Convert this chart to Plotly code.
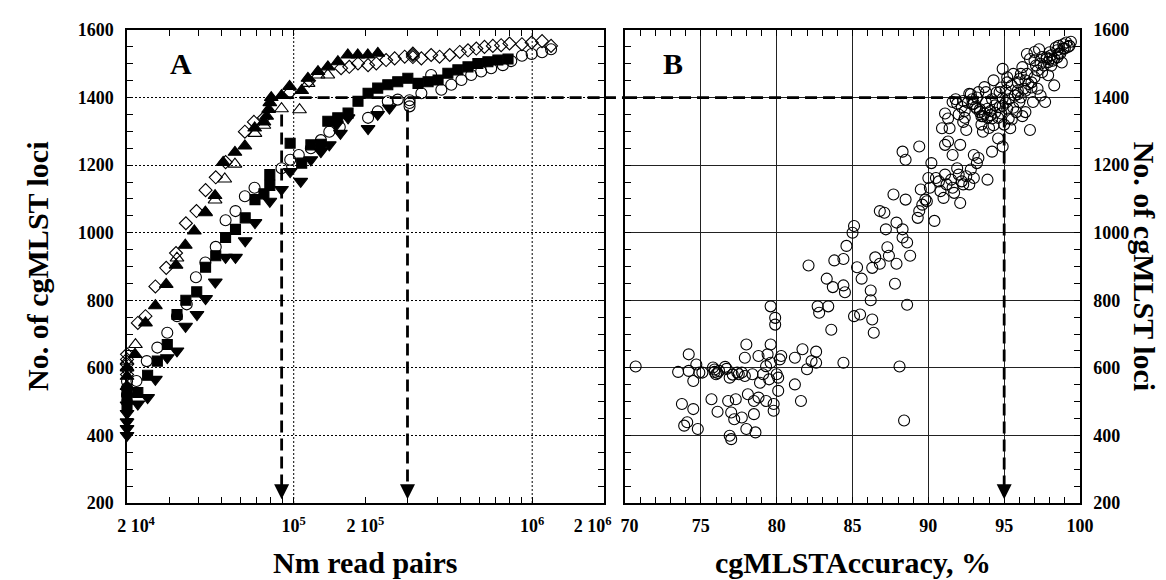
import numpy as np
import plotly.graph_objects as go

FONT = "Liberation Serif"

# ---------------- Panel A: loci vs read pairs ----------------
diam_x = [2e4, 2e4, 2e4, 2e4, 2e4, 22200, 23900, 26300, 29200, 32100, 35300, 39100, 42700, 47100,
          51800, 62400, 68100, 75000, 96600, 116000, 158000, 171000, 186000, 205000, 222000, 244000,
          265000, 292000, 316000, 316000, 316000, 343000, 377000, 409000, 451000, 497000, 538000,
          583000, 631000, 684000, 741000, 803000, 906000, 995000, 1.1e6, 1.2e6]
diam_y = [640, 625, 610, 595, 580, 733, 753, 841, 896, 940, 1028, 1064, 1126, 1164,
          1209, 1299, 1328, 1340, 1416, 1450, 1487, 1491, 1501, 1496, 1501, 1511,
          1516, 1521, 1520, 1526, 1530, 1516, 1526, 1521, 1526, 1535, 1540,
          1545, 1550, 1553, 1555, 1560, 1558, 1563, 1567, 1553]

tri_x = [2e4, 2e4, 2e4, 21600, 23900, 26300, 29200, 32100, 35100, 38300, 42600, 46800, 50600,
         56700, 62400, 68600, 75000, 77000, 78500, 79400, 80500, 88900, 96100, 108000, 114700,
         126400, 139100, 153200, 168600, 185600, 204500, 225300]
tri_y = [600, 575, 545, 640, 733, 784, 847, 904, 963, 1005, 1061, 1110, 1208,
         1238, 1257, 1310, 1328, 1345, 1365, 1385, 1400, 1406, 1433, 1421, 1457,
         1477, 1491, 1506, 1526, 1526, 1526, 1531]

otri_x = [2e4, 21700, 32400, 42700, 46800, 51400, 56700, 68800, 75000, 88900, 105800, 114900,
          126500, 139000]
otri_y = [620, 669, 925, 1059, 1097, 1159, 1203, 1294, 1318, 1367, 1364, 1442, 1467, 1467]

circ_x = [2e4, 2e4, 2e4, 21900, 24200, 26800, 29500, 32400, 35600, 38900, 42600, 47100, 51800,
          57000, 62400, 68500, 88900, 96700, 105000, 118000, 130000, 141000, 156000, 205000,
          225000, 248000, 273000, 306000, 306000, 306000, 343000, 377000, 416000, 458000, 505000,
          555000, 611000, 673000, 753000, 817000, 906000, 995000, 1.1e6, 1.2e6]
circ_y = [560, 540, 520, 561, 620, 660, 704, 753, 788, 868, 912, 958, 1037,
          1064, 1108, 1133, 1191, 1216, 1230, 1250, 1274, 1299, 1313, 1340,
          1359, 1389, 1394, 1384, 1374, 1392, 1413, 1467, 1423, 1438, 1452,
          1467, 1477, 1487, 1496, 1508, 1524, 1529, 1534, 1543]

sq_x = [2e4, 2e4, 2e4, 22200, 24400, 26800, 29500, 32400, 35300, 39200, 42700, 47100, 51800,
        57000, 62600, 68800, 75000, 79400, 79400, 96600, 108000, 118000, 130000, 139000, 153000,
        169000, 186000, 205000, 225000, 248000, 273000, 301000, 332000, 366000, 403000, 443000,
        488000, 538000, 592000, 652000, 718000, 792000]
sq_y = [530, 510, 490, 527, 578, 620, 669, 758, 800, 825, 898, 932, 986,
        1010, 1044, 1098, 1115, 1140, 1172, 1265, 1206, 1260, 1262, 1330, 1340,
        1354, 1389, 1413, 1428, 1438, 1447, 1457, 1442, 1447, 1452, 1472,
        1482, 1491, 1501, 1506, 1511, 1514]

dtri_x = [2e4, 2e4, 2e4, 2e4, 2e4, 22200, 24400, 26300, 29500, 32400, 35200, 39300, 42700, 46900,
          51800, 57000, 62600, 68800, 79400, 88900, 96600, 107000, 118000, 130000, 141000, 151000,
          157000, 169000, 205000, 225000, 252000]
dtri_y = [490, 465, 440, 420, 400, 493, 512, 566, 630, 650, 723, 758, 805, 854,
          927, 927, 976, 1030, 1093, 1128, 1181, 1152, 1216, 1240, 1260, 1320,
          1294, 1340, 1308, 1350, 1369]

A_XTICKS = [2e4, 1e5, 2e5, 1e6, 2e6]
A_XTICKTEXT = ["&nbsp;&nbsp;&nbsp;&nbsp;2 10<sup>4</sup>", "10<sup>5</sup>", "2 10<sup>5</sup>",
               "10<sup>6</sup>", "2 10<sup>6</sup>&nbsp;&nbsp;&nbsp;&nbsp;&nbsp;"]
A_XMINOR = [3e4, 4e4, 5e4, 6e4, 7e4, 8e4, 9e4, 3e5, 4e5, 5e5, 6e5, 7e5, 8e5, 9e5]
A_GRID_X = [1e5, 1e6]
A_XRANGE = [1.9995e4, 2e6]

B_XTICKS = [70, 75, 80, 85, 90, 95, 100]
B_XTICKTEXT = ["&nbsp;&nbsp;70", "75", "80", "85", "90", "95", "100"]

# thresholds marked by the dashed arrows
LOCI_THRESHOLD = 1400
READS_ARROW = [89000, 300000]
READS_ARROW_TOP = [1350, 1365]
ACC_ARROW = 95
ARROW_TIP = 211

# ---------------- Panel B: loci vs accuracy ----------------
acc = [70.7, 73.5, 73.75, 73.9, 74.1, 74.2, 74.2, 74.5, 74.5, 74.7, 74.8, 74.9, 75.1, 75.7, 75.8,
       75.9, 76.0, 76.1, 76.2, 76.7, 76.8, 76.9, 76.9, 77.0, 77.0, 77.2, 77.3, 77.4, 77.5, 77.7,
       77.7, 77.9, 77.9, 78.0, 78.0, 78.1, 78.4, 78.5, 78.5, 78.6, 78.8, 78.8, 78.9, 79.1, 79.3,
       79.3, 79.4, 79.5, 79.6, 79.6, 79.6, 79.8, 79.8, 79.9, 79.9, 80.0, 80.1, 80.1, 80.2, 80.3,
       81.2, 81.2, 81.6, 81.7, 82.0, 82.3, 82.6, 82.6, 82.7, 82.8, 83.4, 83.6, 84.4, 85.1, 85.5,
       86.2, 86.3, 86.4, 88.1, 88.4, 88.6, 75.9, 76.1, 76.6, 77.1,
       82.1, 83.3, 83.7, 83.8, 84.4, 84.4, 84.5, 84.6, 85.0, 85.1, 85.3, 85.6, 86.2, 86.3, 86.5,
       86.8, 87.3, 87.4, 87.8, 87.9, 87.2, 86.8, 87.1, 87.7, 87.9, 88.3, 88.5, 88.3, 88.6, 88.8,
       88.3, 88.5, 89.4, 89.3, 89.4, 89.6, 89.5, 89.8, 89.9, 90.0, 90.1, 90.2, 90.4, 90.5, 90.7,
       90.8, 91.0, 91.1, 91.2, 91.5, 91.6, 91.7, 91.9, 92.0, 92.1, 92.2, 92.3, 92.5, 92.7, 92.8,
       93.0, 93.2, 93.3, 93.0, 93.9, 94.2, 91.1, 91.3, 91.6, 92.1, 90.9, 91.3, 91.4, 91.1, 91.6,
       91.9, 92.2, 92.3, 92.5, 92.7, 93.0, 93.2, 93.4, 93.6, 93.7, 93.8, 93.9, 94.1, 94.2, 94.3,
       94.4, 94.6, 94.7, 94.8, 94.9, 94.9, 95.1, 95.2, 95.3, 95.4, 95.5, 95.7, 95.8, 95.9, 96.0,
       96.2, 96.3, 96.4, 96.5, 96.7, 96.8, 96.9, 97.0, 97.2, 97.3, 97.4, 97.5, 97.7, 97.8, 97.9,
       98.0, 98.1, 98.3, 98.4, 98.5, 98.6, 98.8, 98.9, 99.1, 99.3, 99.4, 97.8, 98.0, 98.2, 96.7,
       96.4, 95.9, 95.2, 94.7, 94.3, 93.7, 93.3, 94.9, 92.4, 92.9, 93.5, 96.1, 97.1, 98.6, 99.0,
       92.3, 92.6, 92.9, 93.1, 93.4, 93.6, 93.9, 94.1, 94.4, 94.6, 94.9, 95.1, 95.3, 95.6, 95.9,
       96.1, 96.4, 96.6, 96.8, 97.0, 97.2, 97.4, 97.6, 97.9, 98.1, 98.3, 98.5, 98.7, 98.9, 99.2,
       97.5, 97.0, 96.5, 96.0, 95.6, 95.2, 94.8, 94.5, 94.2, 93.8, 93.2, 92.8, 92.4, 92.0, 91.8,
       93.5, 94.0, 95.0, 95.5, 96.2]
loci = [604, 588, 493, 429, 439, 640, 591, 478, 561, 610, 419, 586, 586, 507, 601,
        588, 581, 470, 591, 597, 502, 571, 399, 389, 468, 448, 507, 586, 581, 453,
        586, 576, 630, 669, 419, 522, 581, 463, 502, 409, 512, 635, 556, 581, 605,
        502, 640, 566, 615, 669, 782, 493, 473, 748, 728, 581, 571, 532, 625, 635,
        551, 630, 502, 655, 596, 620, 648, 615, 782, 763, 782, 713, 615, 753, 758,
        800, 743, 704, 604, 444, 787, 595, 585, 603, 580,
        903, 864, 839, 918, 922, 844, 824, 961, 1000, 1020, 898, 864, 829, 896, 927,
        908, 957, 932, 849, 908, 1010, 1064, 1059, 1113, 1030, 1010, 1098, 986, 971, 932,
        1240, 1216, 1255, 1044, 1064, 1083, 1128, 1098, 1093, 1162, 1133, 1206, 1035, 1162, 1152,
        1123, 1103, 1172, 1143, 1157, 1133, 1118, 1191, 1172, 1088, 1152, 1143, 1167, 1143, 1187,
        1162, 1206, 1221, 1230, 1157, 1240, 1260, 1270, 1230, 1260, 1309, 1338, 1309, 1353, 1387,
        1382, 1372, 1328, 1304, 1411, 1382, 1367, 1357, 1299, 1353, 1416, 1367, 1348, 1338, 1318,
        1377, 1279, 1372, 1353, 1255, 1485, 1421, 1367, 1338, 1309, 1436, 1406, 1357, 1445, 1387,
        1490, 1426, 1357, 1529, 1304, 1445, 1387, 1510, 1426, 1543, 1406, 1475, 1387, 1514, 1466,
        1534, 1494, 1436, 1548, 1519, 1553, 1504, 1558, 1563, 1553, 1565, 1519, 1514, 1509, 1514,
        1451, 1421, 1445, 1416, 1451, 1431, 1416, 1397, 1340, 1395, 1345, 1470, 1495, 1530, 1545,
        1390, 1385, 1380, 1372, 1365, 1345, 1340, 1360, 1355, 1340, 1375, 1385, 1395, 1370, 1410,
        1400, 1420, 1440, 1430, 1460, 1480, 1500, 1495, 1505, 1525, 1515, 1540, 1530, 1545, 1550,
        1520, 1535, 1470, 1455, 1470, 1460, 1430, 1415, 1395, 1385, 1400, 1410, 1360, 1350, 1395,
        1320, 1310, 1320, 1335, 1345]

# ---------------- Figure ----------------
BLACK = "black"
fig = go.Figure()


def line(x, y, xa, ya, dash, width):
    fig.add_trace(go.Scatter(x=x, y=y, mode="lines", xaxis=xa, yaxis=ya,
                             line=dict(color=BLACK, width=width, dash=dash),
                             hoverinfo="skip", showlegend=False))


# dotted vertical grid of panel A (decades only)
for gx in A_GRID_X:
    line([gx, gx], [200, 1600], "x", "y", "2px,2px", 1)

# dashed guide lines
DASH = "12px,6px"
LW = 2.8
line([READS_ARROW[0], A_XRANGE[1]], [LOCI_THRESHOLD, LOCI_THRESHOLD], "x", "y", DASH, LW)
for rx, top in zip(READS_ARROW, READS_ARROW_TOP):
    line([rx, rx], [top, ARROW_TIP + 10], "x", "y", DASH, LW)
line([70, ACC_ARROW], [LOCI_THRESHOLD, LOCI_THRESHOLD], "x2", "y2", DASH, LW)
line([ACC_ARROW, ACC_ARROW], [LOCI_THRESHOLD, ARROW_TIP + 10], "x2", "y2", DASH, LW)


def pts(x, y, symbol, size, xa="x", ya="y"):
    fig.add_trace(go.Scatter(x=x, y=y, mode="markers", xaxis=xa, yaxis=ya, cliponaxis=False,
                             marker=dict(symbol=symbol, size=size, color=BLACK,
                                         line=dict(color=BLACK, width=1.1)),
                             showlegend=False))


pts(diam_x, diam_y, "diamond-open", 10)
pts(otri_x, otri_y, "triangle-up-open", 12)
pts(circ_x, circ_y, "circle-open", 11)
pts(tri_x, tri_y, "triangle-up", 12)
pts(sq_x, sq_y, "square", 10)
pts(dtri_x, dtri_y, "triangle-down", 12)
pts(acc, loci, "circle-open", 11, "x2", "y2")

# arrow heads
fig.add_trace(go.Scatter(x=READS_ARROW, y=[ARROW_TIP] * 2, mode="markers", xaxis="x", yaxis="y",
                         marker=dict(symbol="arrow-down", size=15, color=BLACK, line=dict(width=0)),
                         showlegend=False, cliponaxis=False))
fig.add_trace(go.Scatter(x=[ACC_ARROW], y=[ARROW_TIP], mode="markers", xaxis="x2", yaxis="y2",
                         marker=dict(symbol="arrow-down", size=15, color=BLACK, line=dict(width=0)),
                         showlegend=False, cliponaxis=False))

tickfont = dict(family=FONT, size=18, color=BLACK, weight="bold")
common = dict(showline=True, linecolor=BLACK, linewidth=1.5, mirror="ticks", ticks="inside",
              ticklen=6, tickwidth=1, tickcolor=BLACK, zeroline=False, tickfont=tickfont)

dom_a = [0, 0.5005]
dom_b = [0.5226, 1]

fig.update_layout(
    width=1166, height=580,
    margin=dict(l=119, r=94, t=18, b=85),
    paper_bgcolor="white", plot_bgcolor="white",
    showlegend=False,
    xaxis=dict(domain=dom_a, type="log", range=[np.log10(A_XRANGE[0]), np.log10(A_XRANGE[1])],
               anchor="y", tickmode="array", tickvals=A_XTICKS, ticktext=A_XTICKTEXT,
               minor=dict(tickmode="array", tickvals=A_XMINOR, ticks="inside", ticklen=6,
                          tickcolor=BLACK, showgrid=False),
               showgrid=False, ticklabelstandoff=6, **common),
    yaxis=dict(domain=[0, 1], range=[200, 1600], anchor="x", tickmode="linear", tick0=200, dtick=200,
               showgrid=True, gridcolor=BLACK, gridwidth=1, griddash="2px,2px",
               minor=dict(dtick=50, ticks="inside", ticklen=6, tickcolor=BLACK, showgrid=False),
               ticklabelstandoff=8, **common),
    xaxis2=dict(domain=dom_b, range=[70, 100], anchor="y2", tickmode="array", tickvals=B_XTICKS,
                ticktext=B_XTICKTEXT, showgrid=True, gridcolor="#222", gridwidth=1,
                minor=dict(tickmode="linear", tick0=70, dtick=1, ticks="inside", ticklen=6,
                           tickcolor=BLACK, showgrid=False),
                ticklabelstandoff=6, **common),
    yaxis2=dict(domain=[0, 1], range=[200, 1600], anchor="x2", side="right", tickmode="linear",
                tick0=200, dtick=200, showgrid=True, gridcolor="#222", gridwidth=1,
                minor=dict(dtick=50, ticks="inside", ticklen=6, tickcolor=BLACK, showgrid=False),
                ticklabelstandoff=8, **common),
)

# dashed threshold line across the gap between the panels
fig.add_shape(type="line", xref="paper", yref="y", x0=dom_a[1], x1=dom_b[0],
              y0=LOCI_THRESHOLD, y1=LOCI_THRESHOLD, line=dict(color=BLACK, width=LW, dash=DASH))

title_font = dict(family=FONT, size=30, color=BLACK, weight="bold")
fig.add_annotation(text="Nm read pairs", xref="paper", yref="paper", x=sum(dom_a) / 2, y=-0.125,
                   showarrow=False, font=title_font, xanchor="center", yanchor="middle")
fig.add_annotation(text="cgMLSTAccuracy, %", xref="paper", yref="paper", x=sum(dom_b) / 2, y=-0.125,
                   showarrow=False, font=title_font, xanchor="center", yanchor="middle")
fig.add_annotation(text="No. of cgMLST loci", xref="paper", yref="paper", x=-0.094, y=0.5,
                   textangle=-90, showarrow=False, font=title_font, xanchor="center", yanchor="middle")
fig.add_annotation(text="No. of cgMLST loci", xref="paper", yref="paper", x=1.068, y=0.5,
                   textangle=90, showarrow=False, font=title_font, xanchor="center", yanchor="middle")

panel_font = dict(family=FONT, size=30, color=BLACK, weight="bold")
fig.add_annotation(text="A", xref="x domain", yref="y domain", x=0.113, y=0.929,
                   showarrow=False, font=panel_font, xanchor="center", yanchor="middle")
fig.add_annotation(text="B", xref="x2 domain", yref="y2 domain", x=0.105, y=0.929,
                   showarrow=False, font=panel_font, xanchor="center", yanchor="middle")

fig.write_html("out.html")
